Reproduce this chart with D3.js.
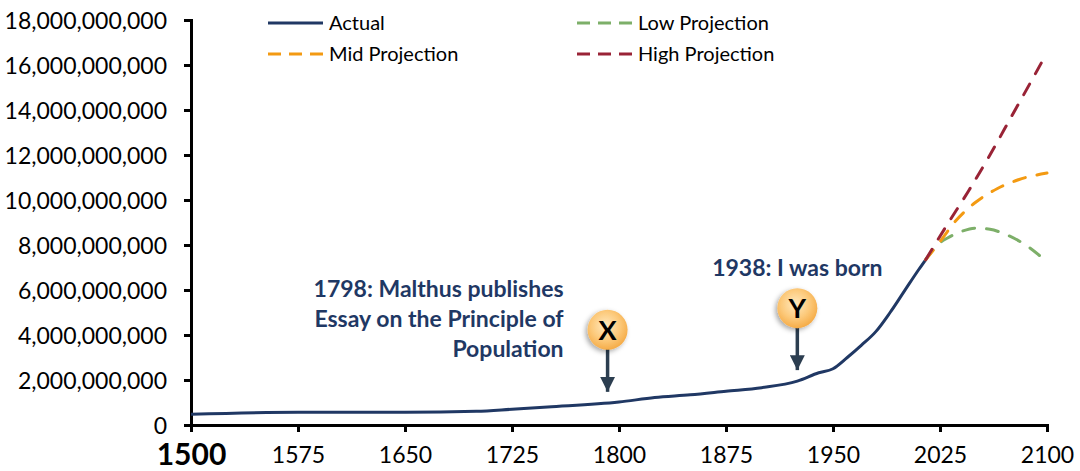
<!DOCTYPE html>
<meta charset="utf-8">
<script src="https://d3js.org/d3.v7.min.js"></script>
<style>
body { margin: 0; background: #fff; }
text { font-family: Lato, "Noto Sans", sans-serif; }
.axis path, .axis line { stroke: #000; stroke-width: 3; }
.axis text { fill: #000; }
.note { font-weight: bold; font-size: 23px; fill: #1f3864; }
</style>
<body>
</body>
<script>

// world population, billions
var actualYears = [1500, 1575, 1650, 1700, 1725, 1750, 1800, 1825, 1850, 1875, 1900, 1925, 1940, 1950, 1960, 1970, 1980, 1990, 2000, 2010, 2015];
var actualPop   = [0.48, 0.57, 0.57, 0.61, 0.70, 0.80, 1.02, 1.22, 1.34, 1.50, 1.66, 1.95, 2.32, 2.50, 3.00, 3.55, 4.15, 5.00, 5.95, 6.90, 7.35];

var lowYears  = [2015, 2025, 2030, 2040, 2050, 2060, 2070, 2085, 2100];
var lowPop    = [7.35, 8.10, 8.30, 8.60, 8.75, 8.70, 8.50, 8.00, 7.25];
var midYears  = [2015, 2025, 2035, 2050, 2065, 2080, 2100];
var midPop    = [7.35, 8.15, 9.00, 9.90, 10.50, 10.90, 11.20];
var highYears = [2015, 2030, 2045, 2060, 2075, 2090, 2100];
var highPop   = [7.35, 8.90, 10.40, 12.00, 13.70, 15.40, 16.55];

var xTicks = [1500, 1575, 1650, 1725, 1800, 1875, 1950, 2025, 2100];
var yTicks = [0, 2e9, 4e9, 6e9, 8e9, 10e9, 12e9, 14e9, 16e9, 18e9];

// where the arrows point on the time axis
var markerYears   = [1792, 1925];
var markerLetters = ["X", "Y"];

var width = 1080, height = 471;
var margin = {top: 20, right: 33, bottom: 46, left: 191};

var svg = d3.select("body").append("svg")
  .attr("width", width)
  .attr("height", height);

var defs = svg.append("defs");
var grad = defs.append("radialGradient").attr("id", "ball")
  .attr("cx", "45%").attr("cy", "40%").attr("r", "60%");
grad.append("stop").attr("offset", "0%").attr("stop-color", "#ffe9bf");
grad.append("stop").attr("offset", "60%").attr("stop-color", "#fcc97a");
grad.append("stop").attr("offset", "100%").attr("stop-color", "#f5ac48");
var shadow = defs.append("filter").attr("id", "shadow")
  .attr("x", "-50%").attr("y", "-50%").attr("width", "200%").attr("height", "200%");
shadow.append("feDropShadow").attr("dx", -2).attr("dy", 2).attr("stdDeviation", 2.5)
  .attr("flood-color", "#000").attr("flood-opacity", 0.35);
defs.append("marker").attr("id", "arrow")
  .attr("viewBox", "0 0 10 10").attr("refX", 10).attr("refY", 5)
  .attr("markerUnits", "userSpaceOnUse")
  .attr("markerWidth", 15).attr("markerHeight", 15).attr("orient", "auto")
  .append("path").attr("d", "M0,0L10,5L0,10Z").attr("fill", "#2c3e50");

var x = d3.scaleLinear()
  .domain([1500, 2100])
  .range([margin.left, width - margin.right]);

var y = d3.scaleLinear()
  .domain([0, 18e9])
  .range([height - margin.bottom, margin.top]);

function toPoints(years, pop) {
  return years.map(function(d, i) { return {year: d, value: pop[i] * 1e9}; });
}

var line = d3.line()
  .x(function(d) { return x(d.year); })
  .y(function(d) { return y(d.value); })
  .curve(d3.curveMonotoneX);

var series = [
  {name: "Actual", pts: toPoints(actualYears, actualPop), color: "#203864", dash: null},
  {name: "Low Projection", pts: toPoints(lowYears, lowPop), color: "#7daf69", dash: "12,12"},
  {name: "Mid Projection", pts: toPoints(midYears, midPop), color: "#f39a12", dash: "12,12"},
  {name: "High Projection", pts: toPoints(highYears, highPop), color: "#992336", dash: "12,12"}
];

// axes
var yAxis = d3.axisLeft(y)
  .tickValues(yTicks)
  .tickFormat(d3.format(","))
  .tickSize(7)
  .tickSizeOuter(0)
  .tickPadding(17);

svg.append("g")
  .attr("class", "y axis")
  .attr("transform", "translate(" + margin.left + ",0)")
  .call(yAxis)
  .selectAll("text").attr("font-family", null).attr("font-size", null)
  .style("font-size", "23px").attr("dy", "0.36em");

var xAxis = d3.axisBottom(x)
  .tickValues(xTicks)
  .tickFormat(d3.format("d"))
  .tickSize(7)
  .tickSizeOuter(0)
  .tickPadding(15);

var gx = svg.append("g")
  .attr("class", "x axis")
  .attr("transform", "translate(0," + (height - margin.bottom) + ")")
  .call(xAxis);
gx.selectAll("text").attr("font-family", null).attr("font-size", null).style("font-size", "23px");
gx.selectAll(".tick").filter(function(d) { return d === 1500; }).select("text")
  .style("font-size", "30px").style("font-weight", "bold").attr("dy", "0.68em").attr("y", 20);

svg.selectAll(".axis .domain").attr("stroke-linecap", "square");

// lines
svg.selectAll(".series")
  .data(series).enter().append("path")
  .attr("class", "series")
  .attr("fill", "none")
  .attr("stroke", function(d) { return d.color; })
  .attr("stroke-width", 3)
  .attr("stroke-linecap", function(d) { return d.dash ? "round" : "butt"; })
  .attr("stroke-dasharray", function(d) { return d.dash; })
  .attr("d", function(d) { return line(d.pts); });

// legend
var legendCols = [268, 577];
var legendRows = [23, 54];
var legendPos = [[0, 0], [1, 0], [0, 1], [1, 1]];
var legend = svg.selectAll(".legend")
  .data(series).enter().append("g")
  .attr("class", "legend")
  .attr("transform", function(d, i) {
    return "translate(" + legendCols[legendPos[i][0]] + "," + legendRows[legendPos[i][1]] + ")";
  });
legend.append("line")
  .attr("x1", 0).attr("x2", 55)
  .attr("stroke", function(d) { return d.color; })
  .attr("stroke-width", 3)
  .attr("stroke-dasharray", function(d) { return d.dash ? "13,8" : null; });
legend.append("text")
  .attr("x", 61).attr("dy", "0.36em")
  .attr("font-size", "20px")
  .text(function(d) { return d.name; });

// markers
var actualAt = d3.scaleLinear().domain(actualYears).range(actualPop.map(function(d) { return d * 1e9; }));

var markers = svg.selectAll(".marker")
  .data(markerYears).enter().append("g")
  .attr("class", "marker")
  .attr("transform", function(d) { return "translate(" + x(d) + "," + (y(actualAt(d)) - 11) + ")"; });

markers.append("line")
  .attr("y1", -45).attr("y2", 0)
  .attr("stroke", "#2c3e50").attr("stroke-width", 3.5)
  .attr("marker-end", "url(#arrow)");

markers.append("circle")
  .attr("cy", -62).attr("r", 20)
  .attr("fill", "url(#ball)")
  .attr("filter", "url(#shadow)");

markers.append("text")
  .attr("y", -62).attr("dy", "0.36em")
  .attr("text-anchor", "middle")
  .attr("font-size", "27px").attr("font-weight", "bold")
  .text(function(d, i) { return markerLetters[i]; });

var noteX = d3.select(markers.nodes()[0]).append("text")
  .attr("class", "note")
  .attr("text-anchor", "end")
  .attr("x", -44).attr("y", -62 - 33);
["1798: Malthus publishes", "Essay on the Principle of", "Population"].forEach(function(t, i) {
  noteX.append("tspan").attr("x", -44).attr("dy", i ? 30 : 0).text(t);
});

d3.select(markers.nodes()[1]).append("text")
  .attr("class", "note")
  .attr("text-anchor", "middle")
  .attr("y", -62 - 32)
  .text("1938: I was born");

</script>
